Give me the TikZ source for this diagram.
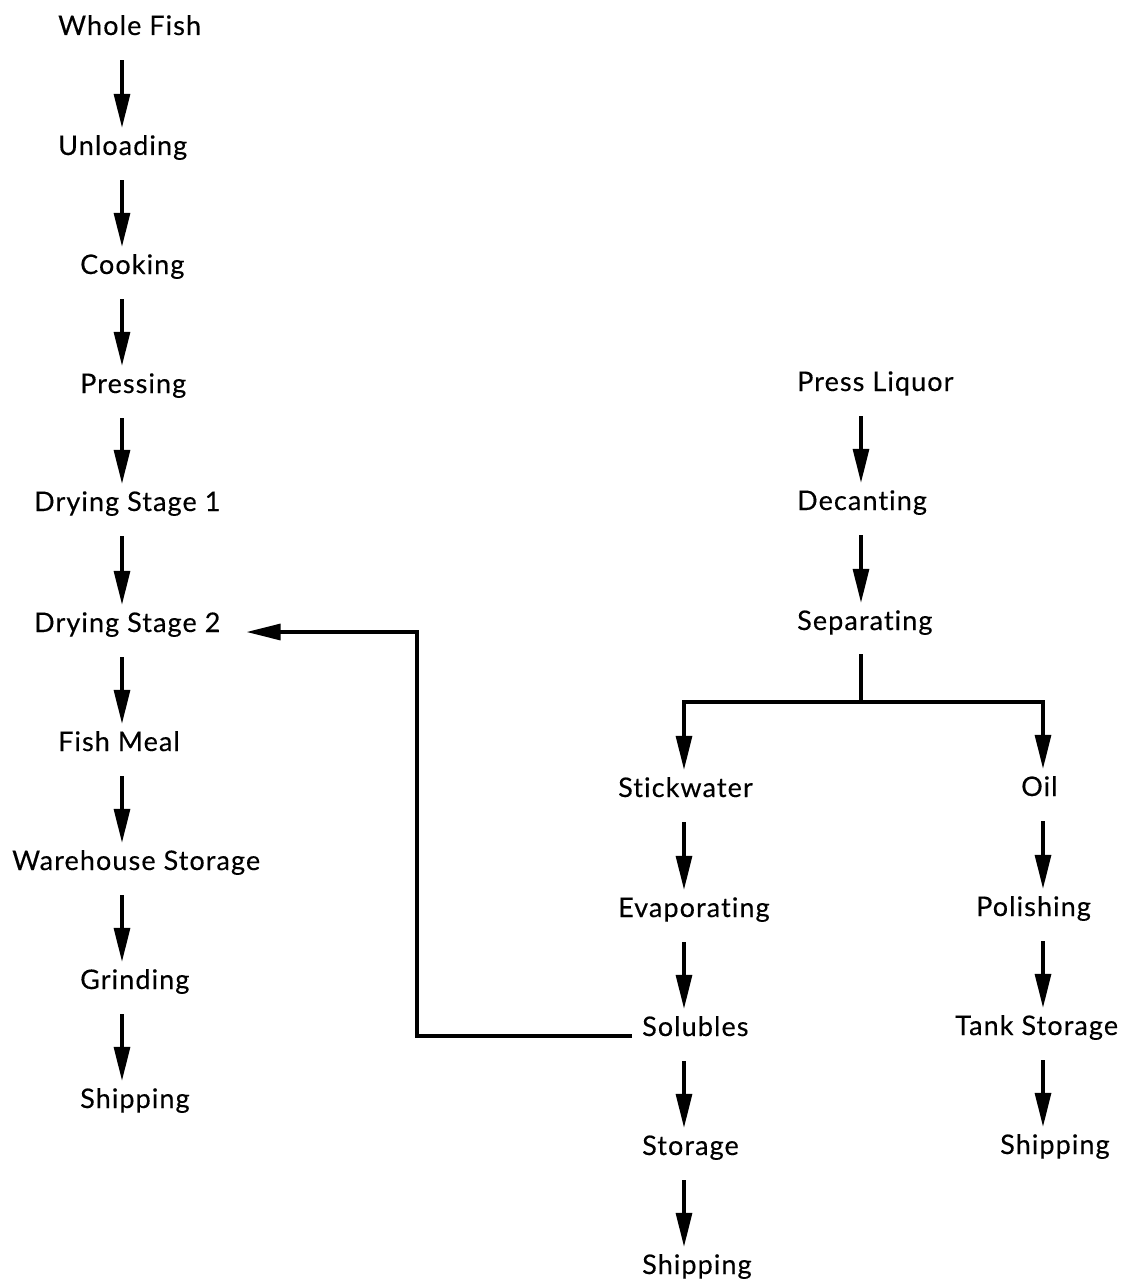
\documentclass[tikz,border=0pt]{standalone}
\usepackage{fontspec}
\setmainfont{Lato}[Ligatures={NoCommon},LetterSpace=4,FakeBold=0.3]
\usetikzlibrary{arrows.meta,positioning}
\begin{document}
\begin{tikzpicture}[x=1pt,y=-1pt,
stage/.style={anchor=base west, inner sep=0pt, text height=20pt, text depth=6pt, font=\fontsize{27}{30}\selectfont},
wire/.style={line width=3.2pt},
flow/.style={wire, -{Triangle[length=34pt,width=16pt]}, shorten <=19pt, shorten >=7pt}]
\useasboundingbox (0,0) rectangle (1130,1281);
% columns of arrows
\coordinate (lx) at (122,0);
\coordinate (rx) at (861,0);
\coordinate (sx) at (684,0);
\coordinate (ox) at (1043,0);
\coordinate (split) at (861,702);
\coordinate (fb) at (417,632);
% fish meal line
\node[stage] (wf) at (58,35) {Whole Fish};
\node[stage] (ul) at (58,155) {Unloading};
\node[stage] (ck) at (80,274) {Cooking};
\node[stage] (pr) at (80,393) {Pressing};
\node[stage] (ds1) at (34,511) {Drying Stage 1};
\node[stage] (ds2) at (34,632) {Drying Stage 2};
\node[stage] (fm) at (58,751) {Fish Meal};
\node[stage] (ws) at (12,870) {Warehouse Storage};
\node[stage] (gr) at (80,989) {Grinding};
\node[stage] (sh1) at (80,1108) {Shipping};
% press liquor line
\node[stage] (pl) at (797,391) {Press Liquor};
\node[stage] (dc) at (797,510) {Decanting};
\node[stage] (sp) at (797,630) {Separating};
\node[stage] (sw) at (618,797) {Stickwater};
\node[stage] (ev) at (618,917) {Evaporating};
\node[stage] (so) at (642,1036) {Solubles};
\node[stage] (st) at (642,1155) {Storage};
\node[stage] (sh2) at (642,1274) {Shipping};
\node[stage] (oil) at (1021,796) {Oil};
\node[stage] (po) at (976,916) {Polishing};
\node[stage] (ts) at (955,1035) {Tank Storage};
\node[stage] (sh3) at (1000,1154) {Shipping};
\foreach \a/\b in {wf/ul,ul/ck,ck/pr,pr/ds1,ds1/ds2,ds2/fm,fm/ws,ws/gr,gr/sh1}
  \draw[flow] (\a.south -| lx) -- (\b.north -| lx);
\foreach \a/\b in {pl/dc,dc/sp}
  \draw[flow] (\a.south -| rx) -- (\b.north -| rx);
\foreach \a/\b in {sw/ev,ev/so,so/st,st/sh2}
  \draw[flow] (\a.south -| sx) -- (\b.north -| sx);
\foreach \a/\b in {oil/po,po/ts,ts/sh3}
  \draw[flow] (\a.south -| ox) -- (\b.north -| ox);
\draw[wire, shorten <=18pt] (sp.south -| split) -- (split);
\draw[flow, shorten <=0pt] (split) -| (sw.north -| sx);
\draw[flow, shorten <=0pt] (split) -| (oil.north -| ox);
\draw[flow, shorten <=10pt, shorten >=26pt] (so.base west) -| (fb) |- (ds2.base east);
\end{tikzpicture}
\end{document}
